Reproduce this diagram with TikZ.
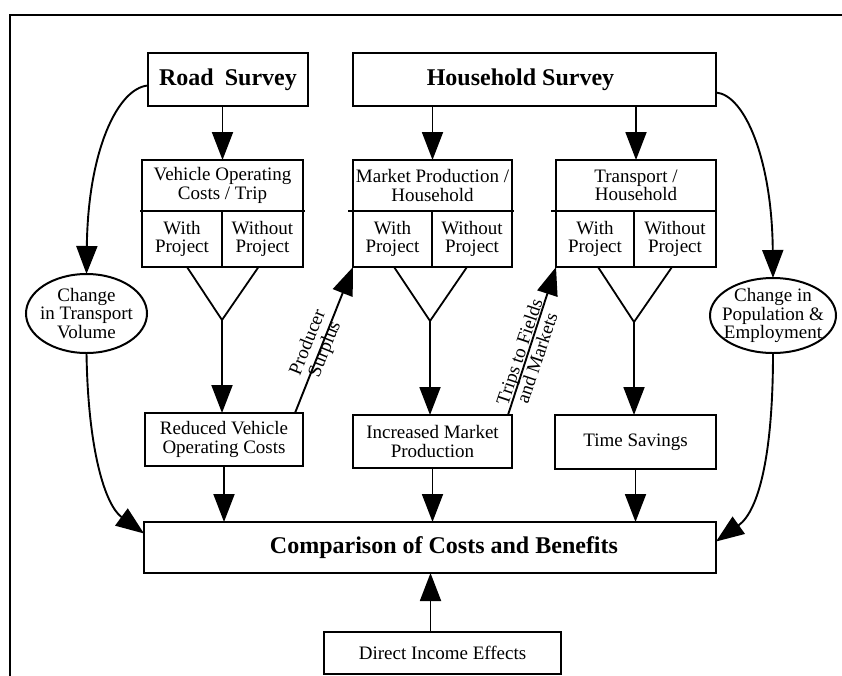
\documentclass[tikz,border=0pt]{standalone}
\usepackage{fontspec}
\setmainfont{Liberation Serif}
\usetikzlibrary{arrows.meta,calc,shapes.geometric}
\begin{document}
\begin{tikzpicture}[x=1pt,y=-1pt,
  rfont/.style={font=\fontsize{19}{18.5}\selectfont},
  box/.style={draw, line width=2pt, inner sep=0pt, outer sep=0pt, align=center, rfont},
  bbox/.style={box, font=\fontsize{24}{26}\selectfont\bfseries},
  txt/.style={inner sep=0pt, align=center, rfont},
  oval/.style={draw, ellipse, line width=2pt, inner sep=0pt, outer sep=0pt},
  ln/.style={line width=1.8pt, line join=miter},
  arr/.style={line width=1.9pt, -{Triangle[length=28pt,width=21pt]}},
]
\useasboundingbox (0,0) rectangle (842,675);
\draw[line width=2.2pt] (10,676) -- (10,15) -- (843,15);

% top surveys
\node[bbox, minimum width=160, minimum height=53] (road) at (228,79.5) {Road\hspace{5pt} Survey};
\node[bbox, minimum width=363, minimum height=53] (hh) at (534.5,79.5) {Household Survey\hspace*{28pt}};

% vehicle block
\node[box, minimum width=161, minimum height=51] (vt) at (222.5,185.5) {Vehicle Operating\\Costs / Trip};
\node[box, minimum width=80, minimum height=56] (vw) at (182,239) {With\\Project};
\node[box, minimum width=81, minimum height=56] (vwo) at (262.5,239) {Without\\Project};

% market block
\node[box, minimum width=159, minimum height=51] (mt) at (432.5,185.5) {Market Production /\\Household};
\node[box, minimum width=79, minimum height=56] (mw) at (392.5,239) {With\\Project};
\node[box, minimum width=80, minimum height=56] (mwo) at (472,239) {Without\\Project};

% transport block
\node[box, minimum width=160, minimum height=51] (tt) at (636,185.5) {Transport /\\Household};
\node[box, minimum width=78, minimum height=56] (tw) at (595,239) {With\\Project};
\node[box, minimum width=82, minimum height=56] (two) at (675,239) {Without\\Project};

% divider extensions
\draw[ln] ($(vt.south west)+(-2,0)$) -- ($(vt.south east)+(2,0)$);
\draw[ln] ($(mt.south west)+(-5,0)$) -- ($(mt.south east)+(2,0)$);
\draw[ln] ($(tt.south west)+(-5,0)$) -- (tt.south east);

% ellipses
\node[oval, minimum width=121, minimum height=79] (lv) at (86.5,313.5) {};
\node[txt] (lvt) at (lv.center) {Change\\in Transport\\Volume};
\node[oval, minimum width=126, minimum height=75] (rv) at (773,315.5) {};
\node[txt] (rvt) at (rv.center) {Change in\\Population \&\\Employment};

% result boxes
\node[box, minimum width=158, minimum height=53] (red) at (224,439.5) {Reduced Vehicle\\Operating Costs};
\node[box, minimum width=159, minimum height=53] (inc) at (432.5,441.5) {Increased Market\\Production};
\node[box, minimum width=161, minimum height=54] (ts) at (635.5,442) {Time Savings};
\node[bbox, minimum width=572, minimum height=51] (comp) at (430,547.5) {\hspace*{28pt}Comparison of Costs and Benefits};
\node[box, minimum width=237, minimum height=42] (dir) at (442.5,653) {Direct Income Effects};

% V shapes
\coordinate (vV) at (222,320);
\coordinate (mV) at (430,321);
\coordinate (tV) at (634,322);
\draw[ln] ($(vw.south)+(5,0)$) -- (vV) -- ($(vwo.south)+(-4,0)$);
\draw[ln] ($(mw.south)+(1.5,0)$) -- (mV) -- ($(mwo.south)+(-5,0)$);
\draw[ln] ($(tw.south)+(3,0)$) -- (tV) -- ($(two.south)+(-3,0)$);

% vertical arrows
\draw[arr] (vt.north |- road.south) -- (vt.north);
\draw[arr] (mt.north |- hh.south) -- (mt.north);
\draw[arr] (tt.north |- hh.south) -- (tt.north);
\draw[arr] (vV) -- (vV |- red.north);
\draw[arr] (mV) -- (mV |- inc.north);
\draw[arr] (tV) -- (tV |- ts.north);
\draw[arr] (red.south) -- (red.south |- comp.north);
\draw[arr] (inc.south) -- (inc.south |- comp.north);
\draw[arr] (ts.south) -- (ts.south |- comp.north);
\coordinate (dtop) at ($(dir.north)+(-12,0)$);
\draw[arr] (dtop) -- (dtop |- comp.south);

% diagonal arrows with labels
\coordinate (ps) at ($(red.north east)+(-8,0)$);
\draw[arr] (ps) -- (mw.south west);
\coordinate (tf) at ($(inc.north east)+(-4,0)$);
\draw[arr] (tf) -- (tw.south west);
\node[txt, rotate=68] (plbl) at (317,346) {Producer\\Surplus};
\node[txt, rotate=71.5] (tlbl) at (528,355) {Trips to Fields\\and Markets};

% curved arrows
\draw[arr] ($(road.west)+(0,6)$) .. controls (118,88) and (88,150) .. (lv.north);
\draw[arr] ($(hh.east)+(0,13)$) .. controls (745,95) and (772,160) .. (rv.north);
\draw[arr] (lv.south) .. controls (88,450) and (105,505) .. ($(comp.west)+(0,-14)$);
\draw[arr] (rv.south) .. controls (773,450) and (760,510) .. ($(comp.east)+(0,-6)$);
\end{tikzpicture}
\end{document}
